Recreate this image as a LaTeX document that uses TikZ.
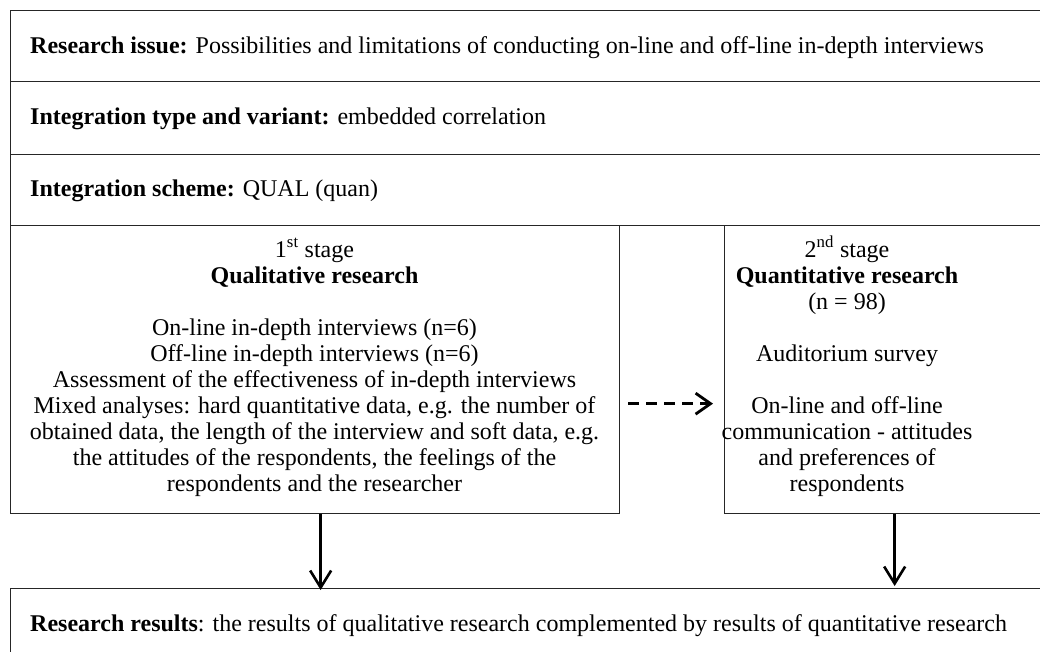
\documentclass[tikz,border=0pt]{standalone}
\usepackage{fontspec}
\setmainfont{Liberation Serif}
\usetikzlibrary{arrows.meta}
\begin{document}
\begin{tikzpicture}[x=1pt,y=-1pt,
  cell/.style={draw=black!85, line width=1.3pt, anchor=north west, inner sep=0pt},
  txt/.style={font=\fontsize{24}{26}\selectfont, inner sep=0pt, anchor=base west},
  ctxt/.style={font=\fontsize{24}{26}\selectfont, inner sep=0pt, anchor=base},
  flow/.style={line width=2.6pt, -{Straight Barb[length=17pt,width=21pt,line width=2.6pt]}},
  link/.style={line width=2.8pt, dash pattern=on 11pt off 7pt,
    -{Straight Barb[length=15pt,width=21pt,line width=2.8pt]}}]
\useasboundingbox (0,0) rectangle (1040,652);
\clip (0,0) rectangle (1040,652);
\fill[white] (0,0) rectangle (1040,652);

% header rows
\node[cell, minimum width=1054pt, minimum height=71pt] (issue)  at (10,10)  {};
\node[cell, minimum width=1054pt, minimum height=73pt] (type)   at (10,81)  {};
\node[cell, minimum width=1054pt, minimum height=71pt] (scheme) at (10,154) {};

% the two stages
\node[cell, minimum width=609pt, minimum height=288pt] (qual)  at (10,225)  {};
\node[cell, minimum width=340pt, minimum height=288pt] (quant) at (724,225) {};

% outcome row
\node[cell, minimum width=1054pt, minimum height=90pt] (results) at (10,588) {};

% row texts
\node[txt] (issueT)  at (30,54)  {\textbf{Research issue:} Possibilities and limitations of conducting on-line and off-line in-depth interviews};
\node[txt] (typeT)   at (30,125) {\textbf{Integration type and variant:} embedded correlation};
\node[txt] (schemeT) at (30,197) {\textbf{Integration scheme:} QUAL (quan)};

\node[ctxt] (qualT) at (314.5,257) {\begin{tabular}[t]{@{}c@{}}
1\textsuperscript{st} stage\\
\textbf{Qualitative research}\\
\\
On-line in-depth interviews (n=6)\\
Off-line in-depth interviews (n=6)\\
Assessment of the effectiveness of in-depth interviews\\
Mixed analyses: hard quantitative data, e.g. the number of\\
obtained data, the length of the interview and soft data, e.g.\\
the attitudes of the respondents, the feelings of the\\
respondents and the researcher
\end{tabular}};

\node[ctxt] (quantT) at (847,257) {\begin{tabular}[t]{@{}c@{}}
2\textsuperscript{nd} stage\\
\textbf{Quantitative research}\\
(n = 98)\\
\\
Auditorium survey\\
\\
On-line and off-line\\
communication - attitudes\\
and preferences of\\
respondents
\end{tabular}};

\node[txt] (resultsT) at (30,631) {\textbf{Research results}: the results of qualitative research complemented by results of quantitative research};

% connectors
\draw[link] ([xshift=8pt,yshift=-34pt]qual.east) -- ([xshift=-11pt,yshift=-34pt]quant.west);
\draw[flow] ([xshift=5.5pt]qual.south) -- ([xshift=5.5pt,yshift=-2pt]qual.south |- results.north);
\draw[flow] (quant.south) -- ([yshift=2pt]quant.south |- results.north);
\end{tikzpicture}
\end{document}
